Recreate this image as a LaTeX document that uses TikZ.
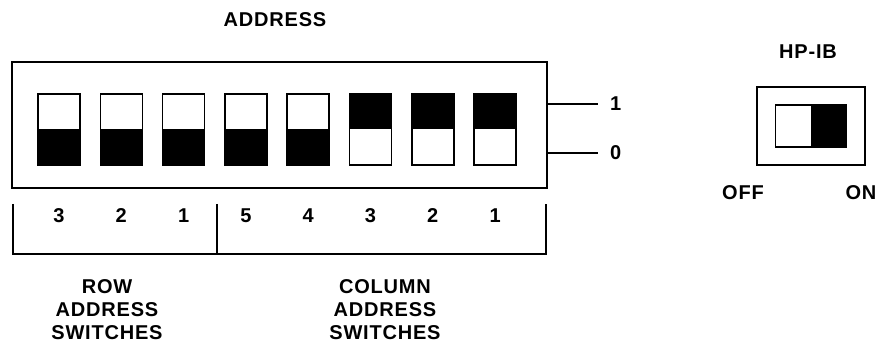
\documentclass[tikz,border=0pt]{standalone}
\usepackage{fontspec}
\newfontfamily\panelfont[LetterSpace=4]{Liberation Sans}
\usepackage{tikz}
\usetikzlibrary{positioning}
\tikzset{every node/.style={font=\panelfont\bfseries\fontsize{20}{23}\selectfont, align=center},
panel/.style={draw, line width=2.8pt, minimum width=535pt, minimum height=126pt, inner sep=0pt},
switch/.style={draw, line width=1.6pt, minimum width=42pt, minimum height=71pt, inner sep=0pt},
swoff/.style={switch, path picture={\fill (path picture bounding box.west) rectangle (path picture bounding box.south east);}},
swon/.style={switch, path picture={\fill (path picture bounding box.north west) rectangle (path picture bounding box.east);}},
slide/.style={draw, line width=1.6pt, minimum width=71pt, minimum height=42pt, inner sep=0pt,
  path picture={\fill (path picture bounding box.north) rectangle (path picture bounding box.south east);}},
level/.style={anchor=west, inner sep=0pt},
lead/.style={line width=1.2pt, shorten >=12pt}
}
\begin{document}
\begin{tikzpicture}[x=1pt, y=-1pt]
      \useasboundingbox (0,0) rectangle (879,347);
      \node (addr) at (275,20) {ADDRESS};
      \node[panel] (box) at (279.5,125) {};
      \foreach \n/\st in {1/swoff,2/swoff,3/swoff,4/swoff,5/swoff,6/swon,7/swon,8/swon}
        \node[\st] (sw\n) at ({59+62.3*(\n-1)},129.5) {};
      \node[level] (one)  at (610,104) {1};
      \node[level] (zero) at (610,153) {0};
      \draw[lead] (box.east |- one)  -- (one.west);
      \draw[lead] (box.east |- zero) -- (zero.west);
      % number brackets
      \draw[line width=1.4pt] (13,204) -- (13,254) -- (546,254) -- (546,204)
                              (217,204) -- (217,254);
      \foreach \n/\d in {1/3,2/2,3/1,4/5,5/4,6/3,7/2,8/1}
        \node (d\n) at (sw\n |- 0,216) {\d};
      \node (row) at (107,310) {ROW\\ADDRESS\\SWITCHES};
      \node (col) at (385,310) {COLUMN\\ADDRESS\\SWITCHES};
      % HP-IB switch
      \node (hpib) at (808,52) {HP-IB};
      \node[draw, line width=2.8pt, minimum width=108pt, minimum height=78pt] (hpbox) at (811,126) {};
      \node[slide] (hpsw) at (hpbox.center) {};
      \node (off) at (743,193) {OFF};
      \node (on)  at (861,193) {ON};
    \end{tikzpicture}
\end{document}
